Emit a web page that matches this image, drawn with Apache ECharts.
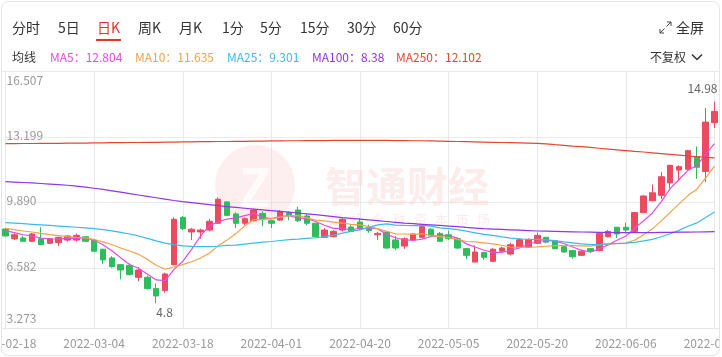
<!DOCTYPE html>
<html><head><meta charset="utf-8">
<script src="https://cdn.jsdelivr.net/npm/echarts@6/dist/echarts.min.js"></script>
<style>html,body{margin:0;padding:0;background:#fff;overflow:hidden}#c{width:722px;height:357px;}</style>
</head><body><div id="c"></div>
<script>
// ---------- data ----------
const dates = ['2022-02-18','2022-02-21','2022-02-22','2022-02-23','2022-02-24','2022-02-25','2022-02-28','2022-03-01','2022-03-02','2022-03-03',
'2022-03-04','2022-03-07','2022-03-08','2022-03-09','2022-03-10','2022-03-11','2022-03-14','2022-03-15','2022-03-16','2022-03-17',
'2022-03-18','2022-03-21','2022-03-22','2022-03-23','2022-03-24','2022-03-25','2022-03-28','2022-03-29','2022-03-30','2022-03-31',
'2022-04-01','2022-04-04','2022-04-06','2022-04-07','2022-04-08','2022-04-11','2022-04-12','2022-04-13','2022-04-14','2022-04-19',
'2022-04-20','2022-04-21','2022-04-22','2022-04-25','2022-04-26','2022-04-27','2022-04-28','2022-04-29','2022-05-03','2022-05-04',
'2022-05-05','2022-05-06','2022-05-10','2022-05-11','2022-05-12','2022-05-13','2022-05-16','2022-05-17','2022-05-18','2022-05-19',
'2022-05-20','2022-05-23','2022-05-24','2022-05-25','2022-05-26','2022-05-27','2022-05-30','2022-05-31','2022-06-01','2022-06-02',
'2022-06-06','2022-06-07','2022-06-08','2022-06-09','2022-06-10','2022-06-13','2022-06-14','2022-06-15','2022-06-16','2022-06-17',
'2022-06-20'];
const opens  = [8.55,8.06,8.10,7.93,8.06,7.83,7.86,7.99,7.99,8.16, 7.99,7.53,7.09,6.75,6.72,6.11,6.11,5.54,5.44,6.75,
                9.14,8.40,8.40,8.50,8.84,9.92,9.31,8.84,8.97,9.34, 8.97,9.00,9.38,9.51,9.21,8.84,8.13,8.16,8.50,8.65,
                8.90,8.60,8.26,8.40,8.00,7.69,8.00,8.13,8.54,8.33, 8.26,8.06,7.56,6.88,7.36,6.92,7.43,7.29,7.63,7.63,
                7.83,8.13,7.96,7.66,7.46,7.22,7.56,7.46,8.16,8.64, 8.64,8.43,9.38,9.98,10.25,10.88,11.53,11.57,12.20,11.46,13.92];
const closes = [8.20,8.26,7.93,8.30,7.76,8.06,8.13,8.20,8.23,7.93, 7.43,6.99,6.65,6.48,6.25,6.48,5.54,5.17,6.28,9.04,
                8.57,8.54,8.50,8.94,10.05,9.24,8.84,9.07,9.51,9.07, 8.84,9.44,9.24,8.97,8.84,8.16,8.50,8.43,9.04,8.43,
                8.57,8.47,8.33,7.59,7.59,8.06,8.30,8.67,8.20,7.93, 8.06,7.59,7.22,7.39,7.12,7.53,7.59,7.76,8.01,8.03,
                8.23,7.89,7.56,7.39,7.15,7.43,7.43,8.33,8.43,8.30, 8.50,9.38,10.22,10.38,11.19,11.77,11.70,12.51,11.67,13.95,14.49];
const lows   = [8.18,7.99,7.93,7.90,7.73,7.80,7.69,7.92,7.92,7.93, 7.43,6.78,6.60,6.01,6.20,5.91,5.50,4.80,5.35,6.72,
                8.50,7.99,8.06,8.43,8.80,9.20,8.60,8.74,8.94,8.70, 8.60,8.97,8.99,8.90,8.74,8.13,8.10,8.13,8.43,8.40,
                8.50,8.36,8.00,7.55,7.48,7.55,7.96,8.10,8.15,7.90, 8.00,7.55,7.02,6.88,6.99,6.88,7.39,7.22,7.59,7.60,
                7.79,7.83,7.53,7.36,7.05,7.20,7.33,7.43,8.13,8.10, 8.33,8.40,9.35,9.95,10.06,10.60,10.96,11.50,11.09,10.93,13.65];
const highs  = [8.60,8.33,8.21,8.35,8.64,8.10,8.16,8.24,8.33,8.16, 8.06,7.55,7.18,6.78,6.81,6.62,6.20,5.81,6.35,9.14,
                9.20,8.60,8.57,9.06,10.15,9.95,9.40,9.14,9.58,9.44, 9.00,9.50,9.44,9.68,9.31,8.87,8.60,8.50,9.10,8.80,
                9.10,8.77,8.40,8.45,8.20,8.13,8.33,8.77,8.60,8.40, 8.47,8.13,7.60,7.73,7.40,7.60,7.66,7.86,8.06,8.08,
                8.37,8.13,8.00,7.70,7.50,7.50,7.56,8.37,8.50,8.64, 8.87,9.40,10.25,10.80,11.42,11.77,11.77,12.55,12.72,14.66,14.98];
const ma5   = [8.47,8.37,8.26,8.20,8.09,8.06,8.04,8.09,8.08,8.11, 7.98,7.76,7.45,7.10,6.76,6.57,6.28,5.98,5.94,6.50,
               6.92,7.52,8.19,8.72,8.92,9.05,9.11,9.23,9.34,9.15, 9.07,9.19,9.22,9.11,9.07,8.93,8.74,8.58,8.59,8.51,
               8.59,8.59,8.57,8.28,8.11,8.01,7.97,8.04,8.16,8.23, 8.23,8.09,7.80,7.64,7.48,7.37,7.37,7.48,7.60,7.78,
               7.92,7.98,7.94,7.82,7.64,7.48,7.39,7.55,7.75,7.98, 8.20,8.59,8.97,9.36,9.93,10.59,11.05,11.51,11.77,12.32,12.86];
const ma10  = [8.58,8.52,8.45,8.40,8.33,8.27,8.22,8.17,8.13,8.10, 8.02,7.90,7.77,7.59,7.44,7.28,7.02,6.72,6.52,6.63,
               6.75,6.90,7.09,7.33,7.71,7.99,8.32,8.71,9.03,9.03, 9.06,9.15,9.22,9.23,9.11,9.00,8.96,8.90,8.85,8.79,
               8.76,8.67,8.57,8.44,8.31,8.30,8.28,8.31,8.22,8.17, 8.12,8.03,7.92,7.90,7.85,7.80,7.73,7.64,7.62,7.63,
               7.65,7.68,7.71,7.71,7.71,7.70,7.69,7.75,7.79,7.81, 7.84,7.99,8.26,8.56,8.96,9.39,9.82,10.24,10.56,11.13,11.73];
const ma25  = [8.87,8.85,8.82,8.79,8.76,8.73,8.70,8.67,8.64,8.61, 8.57,8.52,8.46,8.38,8.30,8.20,8.08,7.95,7.84,7.76,
               7.70,7.67,7.66,7.66,7.68,7.72,7.74,7.79,7.84,7.89, 7.92,7.97,8.01,8.04,8.08,8.11,8.17,8.24,8.34,8.43,
               8.51,8.63,8.76,8.81,8.75,8.73,8.72,8.73,8.70,8.61, 8.57,8.52,8.44,8.36,8.28,8.23,8.15,8.09,8.06,8.02,
               8.03,8.00,7.97,7.90,7.85,7.80,7.76,7.76,7.80,7.82, 7.84,7.88,7.95,8.03,8.16,8.31,8.48,8.69,8.86,9.13,9.41];
const ma100 = [10.94,10.92,10.90,10.88,10.85,10.82,10.79,10.76,10.72,10.67, 10.61,10.55,10.48,10.41,10.34,10.27,10.20,10.13,10.06,9.99,
               9.93,9.88,9.83,9.78,9.73,9.68,9.64,9.60,9.56,9.52, 9.48,9.44,9.40,9.36,9.32,9.28,9.23,9.18,9.13,9.09,
               9.05,9.01,8.97,8.93,8.89,8.85,8.82,8.79,8.76,8.73, 8.70,8.67,8.63,8.60,8.57,8.55,8.53,8.51,8.49,8.47,
               8.45,8.44,8.43,8.42,8.41,8.40,8.39,8.38,8.38,8.37, 8.37,8.37,8.37,8.37,8.38,8.38,8.39,8.39,8.40,8.41,8.42];
const ma250 = [12.86,12.86,12.87,12.87,12.88,12.88,12.88,12.89,12.89,12.89, 12.90,12.90,12.91,12.91,12.92,12.92,12.93,12.93,12.94,12.94,
               12.95,12.95,12.96,12.96,12.97,12.97,12.98,12.98,12.99,12.99, 13.00,13.00,13.01,13.01,13.02,13.02,13.02,13.03,13.03,13.03,
               13.03,13.03,13.03,13.03,13.02,13.02,13.01,13.01,13.00,12.99, 12.98,12.97,12.96,12.95,12.94,12.93,12.92,12.91,12.90,12.89,
               12.88,12.85,12.81,12.78,12.74,12.71,12.67,12.63,12.59,12.55, 12.51,12.47,12.44,12.40,12.36,12.32,12.28,12.24,12.21,12.17,12.14];
const yTickLabels = ['3.273','6.582','9.890','13.199','16.507'];
const yMin = 3.273, yMax = 16.507;
const tabs = ['分时','5日','日K','周K','月K','1分','5分','15分','30分','60分'];
const maNames  = ['MA5','MA10','MA25','MA100','MA250'];
const maLatest = ['12.804','11.635','9.301','8.38','12.102'];

// ---------- style ----------
const UP = '#ec4a5f', DOWN = '#2dbd5c';
const maColors = ['#e74ce8','#f4a24a','#3cbbe8','#9135e6','#e5482f'];
const FONT = '"Noto Sans CJK SC", "Noto Sans", sans-serif';
const tabX = [12,58,97,138,179,222,260,300,347,393];
const maX = [50,135,227,312,396];

const graphics = [];
graphics.push({type:'rect', z:1, shape:{x:0,y:328.5,width:722,height:30}, style:{fill:'#fff'}, silent:true});
graphics.push({type:'line', z:1, shape:{x1:1,y1:328.5,x2:720,y2:328.5}, style:{stroke:'#e6e6e6',lineWidth:1}});
graphics.push({type:'line', z:1, shape:{x1:1,y1:71.5,x2:720,y2:71.5}, style:{stroke:'#e9e9e9',lineWidth:1}});
graphics.push({type:'rect', z:10, shape:{x:0,y:0,width:1.5,height:357}, style:{fill:'#fff'}});
graphics.push({type:'rect', z:10, shape:{x:719.5,y:0,width:3,height:357}, style:{fill:'#fff'}});
graphics.push({type:'rect', z:11, shape:{x:1.5,y:1.5,width:718,height:354,r:7}, style:{fill:'none',stroke:'#e2e5ea',lineWidth:1}});
tabs.forEach((t,i)=>{
  graphics.push({type:'text', z:5, x:tabX[i], y:28, style:{text:t, font:'14px '+FONT, fill: i===2?'#e5322d':'#333', textVerticalAlign:'middle'}});
});
graphics.push({type:'rect', z:5, shape:{x:96,y:39,width:25,height:2}, style:{fill:'#e5322d'}});
graphics.push({type:'polyline', z:5, shape:{points:[[660,29],[660,33],[664,33]]}, style:{stroke:'#444',lineWidth:1,fill:'none'}});
graphics.push({type:'line', z:5, shape:{x1:660,y1:33,x2:664.5,y2:28.5}, style:{stroke:'#444',lineWidth:1}});
graphics.push({type:'polyline', z:5, shape:{points:[[667,22],[671,22],[671,26]]}, style:{stroke:'#444',lineWidth:1,fill:'none'}});
graphics.push({type:'line', z:5, shape:{x1:671,y1:22,x2:666.5,y2:26.5}, style:{stroke:'#444',lineWidth:1}});
graphics.push({type:'text', z:5, x:676, y:28, style:{text:'全屏', font:'14px '+FONT, fill:'#333', textVerticalAlign:'middle'}});
graphics.push({type:'text', z:5, x:12, y:57, style:{text:'均线', font:'12px '+FONT, fill:'#333', textVerticalAlign:'middle'}});
maNames.forEach((n,i)=>{
  graphics.push({type:'text', z:5, x:maX[i], y:57, style:{text:n+'：'+maLatest[i], font:'12px '+FONT, fill:maColors[i], textVerticalAlign:'middle'}});
});
graphics.push({type:'text', z:5, x:650, y:57, style:{text:'不复权', font:'12px '+FONT, fill:'#333', textVerticalAlign:'middle'}});
graphics.push({type:'polyline', z:5, shape:{points:[[692,54.5],[697,59.5],[702,54.5]]}, style:{stroke:'#333',lineWidth:1.5,fill:'none'}});
graphics.push({type:'circle', z:0, shape:{cx:255,cy:185,r:40}, style:{fill:'rgba(236,96,96,0.10)'}});
graphics.push({type:'text', z:0, x:255, y:187, style:{text:'Z', font:'bold 52px '+FONT, fill:'rgba(255,255,255,0.75)', textAlign:'center', textVerticalAlign:'middle'}});
graphics.push({type:'text', z:0, x:325, y:186, style:{text:'智通财经', font:'bold 41px '+FONT, fill:'rgba(236,96,96,0.12)', textVerticalAlign:'middle'}});
'连接全球资本市场'.split('').forEach((ch,i)=>{
  graphics.push({type:'text', z:0, x:330+i*21, y:219, style:{text:ch, font:'13px '+FONT, fill:'rgba(236,96,96,0.13)', textVerticalAlign:'middle'}});
});

const chart = echarts.init(document.getElementById('c'), null, {renderer:'canvas'});
const candleData = dates.map((d,i)=>[opens[i], closes[i], lows[i], highs[i]]);
const maSeries = [ma5, ma10, ma25, ma100, ma250].map((arr,i)=>({
  name: maNames[i], type:'line', data: arr, xAxisIndex:0, yAxisIndex:0,
  symbol:'none', smooth:false, z:3, silent:true,
  lineStyle:{width:1.2, color:maColors[i]}
}));

chart.setOption({
  animation:false,
  backgroundColor:'#fff',
  textStyle:{fontFamily:FONT},
  grid:{left:5.5, right:7.5, top:71.5, bottom:23.5, containLabel:false, outerBoundsMode:'none'},
  graphic: graphics,
  xAxis:[
    {type:'category', data:dates, boundaryGap:false, z:0,
     axisLine:{show:false}, axisTick:{show:false}, axisLabel:{show:false},
     splitLine:{show:true, interval:9, lineStyle:{type:'dotted', color:'#d6d6d6'}}},
    {type:'category', data:dates, boundaryGap:false, position:'bottom', z:4,
     axisLine:{show:false}, axisTick:{show:false}, splitLine:{show:false},
     axisLabel:{interval:9, color:'#999', fontSize:12, margin:4, fontFamily:FONT, showMinLabel:true, showMaxLabel:true, hideOverlap:false,
       alignMinLabel:'center', alignMaxLabel:'center'}}
  ],
  yAxis:[
    {type:'value', min:yMin, max:yMax, scale:true, axisLine:{show:false}, axisTick:{show:false}, axisLabel:{show:false}, splitLine:{show:false}},
    {type:'value', min:0, max:yTickLabels.length-1, interval:1, position:'left',
     axisLine:{show:false}, axisTick:{show:false},
     splitLine:{show:true, lineStyle:{type:'dotted', color:'#d6d6d6'}},
     axisLabel:{inside:true, margin:1, color:'#999', fontSize:12, fontFamily:FONT,
       formatter:(v)=>{
         const s = yTickLabels[Math.round(v)];
         if (v === yTickLabels.length-1) return '{t|'+s+'}';
         if (v === 0) return '{b|'+s+'}';
         return '{m|'+s+'}';
       },
       rich:{t:{padding:[17,0,0,0], color:'#999', fontSize:12}, b:{padding:[0,0,31,0], color:'#999', fontSize:12}, m:{padding:[0,0,4,0], color:'#999', fontSize:12}}
     }}
  ],
  series:[
    {type:'candlestick', data:candleData, xAxisIndex:0, yAxisIndex:0, barWidth:6, clip:false, z:2,
     itemStyle:{color:UP, color0:DOWN, borderColor:UP, borderColor0:DOWN, borderWidth:1},
     markPoint:{
       symbol:'circle', symbolSize:1, itemStyle:{color:'rgba(0,0,0,0)'}, silent:true,
       data:[
         {type:'max', valueDim:'highest', label:{show:true, position:'top', distance:7, align:'right', offset:[3,0], color:'#666', fontSize:12, formatter:(p)=>String(p.value)}},
         {type:'min', valueDim:'lowest', label:{show:true, position:'bottom', distance:3, align:'left', offset:[0,0], color:'#666', fontSize:12, formatter:(p)=>String(p.value)}}
       ]
     }
    },
    ...maSeries
  ]
});
</script>
</body></html>
